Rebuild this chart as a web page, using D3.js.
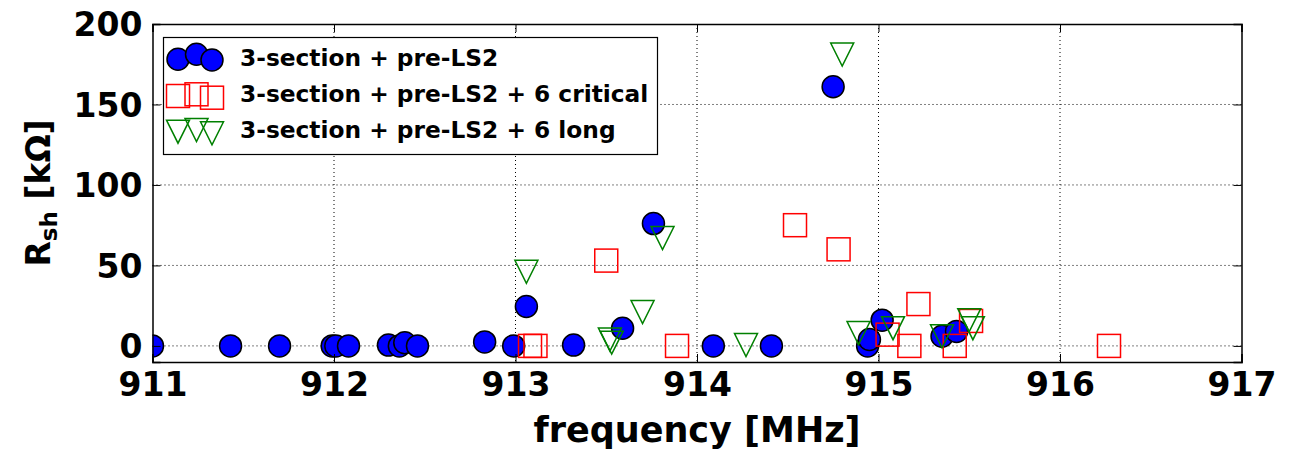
<!DOCTYPE html>
<html><head><meta charset="utf-8">
<script src="https://cdn.jsdelivr.net/npm/d3@7"></script>
<style>
body{margin:0;background:#fff;}
text{font-family:"DejaVu Sans",sans-serif;font-weight:bold;}
</style></head>
<body><svg id="c" width="1301" height="449"></svg>
<script>
const xTicks = [911, 912, 913, 914, 915, 916, 917];
const yTicks = [0, 50, 100, 150, 200];
const seriesNames = ["3-section + pre-LS2", "3-section + pre-LS2 + 6 critical", "3-section + pre-LS2 + 6 long"];
const freqCircle = [911.0, 911.43, 911.70, 911.99, 912.01, 912.08, 912.30, 912.36, 912.39, 912.46, 912.83, 912.99, 913.06, 913.32, 913.59, 913.76, 914.09, 914.41, 914.75, 914.94, 914.95, 915.02, 915.35, 915.43];
const rCircle = [0, 0, 0, 0, 0, 0, 0.5, 0, 2, 0, 2.5, 0, 24.5, 0.5, 11, 76, 0, 0, 161, 0, 4, 16, 6, 9];
const freqSquare = [913.08, 913.11, 913.50, 913.89, 914.54, 914.78, 915.05, 915.17, 915.22, 915.42, 915.51, 916.27];
const rSquare = [0, 0, 53, 0, 75, 60, 7, 0, 26, 0, 15.5, 0];
const freqTri = [913.06, 913.52, 913.53, 913.70, 913.81, 914.27, 914.80, 914.89, 915.08, 915.35, 915.50, 915.52];
const rTri = [46, 4, 2, 21, 67, 0.5, 181, 8, 11, 6, 16, 11];

const svg = d3.select("#c");
const L = 152.5, R = 1241.5, T = 24, B = 362;
const x = d3.scaleLinear().domain([911, 917]).range([L, R]);
const y = d3.scaleLinear().domain([-10, 200]).range([B, T]);

svg.append("defs").append("clipPath").attr("id", "pc").append("rect")
  .attr("x", L).attr("y", T).attr("width", R - L).attr("height", B - T);

// grid
const g = svg.append("g");
g.selectAll(".gx").data(xTicks.slice(1, -1)).enter().append("line")
  .attr("x1", d => x(d)).attr("x2", d => x(d)).attr("y1", T).attr("y2", B)
  .attr("stroke", "#000").attr("stroke-width", 1).attr("stroke-dasharray", "1,3");
g.selectAll(".gy").data(yTicks.slice(0, -1)).enter().append("line")
  .attr("y1", d => y(d)).attr("y2", d => y(d)).attr("x1", L).attr("x2", R)
  .attr("stroke", "#000").attr("stroke-width", 1).attr("stroke-dasharray", "1,3");

// markers
const plot = svg.append("g").attr("clip-path", "url(#pc)");
const circ = d3.range(freqCircle.length).map(i => ({f: freqCircle[i], r: rCircle[i]}));
const sq = d3.range(freqSquare.length).map(i => ({f: freqSquare[i], r: rSquare[i]}));
const tri = d3.range(freqTri.length).map(i => ({f: freqTri[i], r: rTri[i]}));
const S = 23;
function triPath(cx, cy) {
  const h = S / 2;
  return `M${cx - h},${cy - h}L${cx + h},${cy - h}L${cx},${cy + h}Z`;
}
plot.selectAll(".c").data(circ).enter().append("circle")
  .attr("cx", d => x(d.f)).attr("cy", d => y(d.r)).attr("r", 11)
  .attr("fill", "#0000ff").attr("stroke", "#000").attr("stroke-width", 1.5);
plot.selectAll(".s").data(sq).enter().append("rect")
  .attr("x", d => x(d.f) - S / 2).attr("y", d => y(d.r) - S / 2).attr("width", S).attr("height", S)
  .attr("fill", "none").attr("stroke", "#ff0000").attr("stroke-width", 1.5);
plot.selectAll(".t").data(tri).enter().append("path")
  .attr("d", d => triPath(x(d.f), y(d.r)))
  .attr("fill", "none").attr("stroke", "#008000").attr("stroke-width", 1.5);

// axes
const ax = svg.append("g").attr("transform", `translate(0,${B})`)
  .call(d3.axisBottom(x).tickValues(xTicks).tickFormat(d3.format("d")).tickSize(-8).tickPadding(8));
const axT = svg.append("g").attr("transform", `translate(0,${T})`)
  .call(d3.axisTop(x).tickValues(xTicks).tickFormat("").tickSize(-8));
const ay = svg.append("g").attr("transform", `translate(${L},0)`)
  .call(d3.axisLeft(y).tickValues(yTicks).tickFormat(d3.format("d")).tickSize(-8).tickPadding(10));
const ayR = svg.append("g").attr("transform", `translate(${R},0)`)
  .call(d3.axisRight(y).tickValues(yTicks).tickFormat("").tickSize(-8));
[ax, axT, ay, ayR].forEach(a => {
  a.select(".domain").attr("stroke", "#000").attr("stroke-width", 1.5);
  a.selectAll(".tick line").attr("stroke", "#000").attr("stroke-width", 1);
  a.selectAll("text").attr("fill", "#000").style("font-size", "33px").style("font-family", "DejaVu Sans").style("font-weight", "bold");
});
ax.selectAll(".tick text").attr("dy", "0.8em");
ay.selectAll(".tick text").attr("dy", "0.36em");

// legend
const lg = svg.append("g");
lg.append("rect").attr("x", 163.5).attr("y", 37.5).attr("width", 494).attr("height", 117)
  .attr("fill", "#fff").attr("stroke", "#000").attr("stroke-width", 1.2);
const rowY = [58, 94, 130];
const lx = [178, 196.5, 212];
const offC = [1.3, -3.7, 2];
const offS = [2, 0.3, 3.7];
const offT = [1.7, 0, 3.3];
lx.forEach((px, i) => {
  lg.append("circle").attr("cx", px).attr("cy", rowY[0] + offC[i]).attr("r", 11)
    .attr("fill", "#0000ff").attr("stroke", "#000").attr("stroke-width", 1.5);
  lg.append("rect").attr("x", px - S / 2).attr("y", rowY[1] + offS[i] - S / 2).attr("width", S).attr("height", S)
    .attr("fill", "none").attr("stroke", "#ff0000").attr("stroke-width", 1.5);
  lg.append("path").attr("d", triPath(px, rowY[2] + offT[i]))
    .attr("fill", "none").attr("stroke", "#008000").attr("stroke-width", 1.5);
});
lg.selectAll(".lt").data(seriesNames).enter().append("text")
  .attr("x", 240).attr("y", (d, i) => rowY[i]).attr("dy", "0.36em")
  .style("font-size", "23.3px").attr("fill", "#000").text(d => d);

// axis labels
svg.append("text").attr("x", (L + R) / 2).attr("y", 442).attr("text-anchor", "middle")
  .style("font-size", "35px").attr("fill", "#000").text("frequency [MHz]");
const yl = svg.append("text").attr("transform", "translate(50,193) rotate(-90)")
  .attr("text-anchor", "middle").style("font-size", "33px").attr("fill", "#000");
yl.append("tspan").text("R");
yl.append("tspan").attr("dy", 7).style("font-size", "23px").text("sh");
yl.append("tspan").attr("dy", -7).text(" [kΩ]");
</script></body></html>
